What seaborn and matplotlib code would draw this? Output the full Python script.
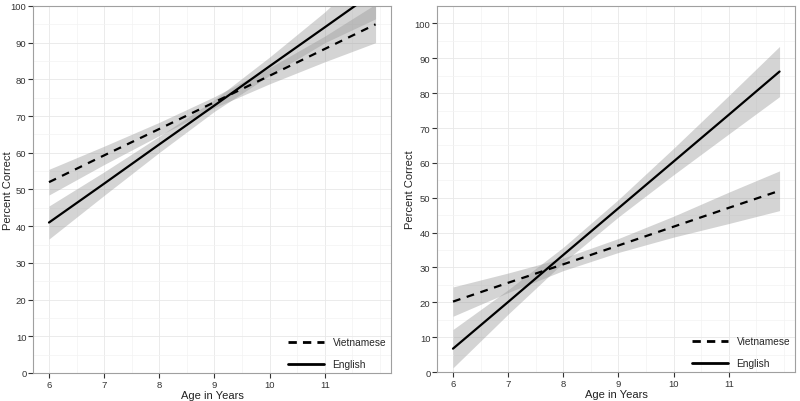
import numpy as np
import pandas as pd
import seaborn as sns
import matplotlib.pyplot as plt
from matplotlib.lines import Line2D
from matplotlib.ticker import MultipleLocator

# values (fitted line and 95% band)
age = [6, 7, 8, 9, 10, 11, 11.92]

# left panel
left_viet_fit = [52.0, 59.3, 66.5, 73.8, 81.0, 88.3, 95.0]
left_viet_lo = [48.5, 56.8, 64.7, 72.3, 78.8, 84.8, 90.0]
left_viet_hi = [55.5, 61.8, 68.3, 75.3, 83.2, 91.8, 100.5]
left_eng_fit = [41.0, 51.6, 62.3, 72.9, 83.6, 94.2, 104.0]
left_eng_lo = [36.5, 48.4, 60.1, 71.3, 81.1, 90.0, 96.5]
left_eng_hi = [45.5, 54.8, 64.5, 74.5, 86.1, 98.4, 111.5]

# right panel
right_viet_fit = [20.2, 25.6, 30.9, 36.3, 41.7, 47.1, 52.0]
right_viet_lo = [16.0, 22.8, 29.1, 34.3, 38.7, 42.6, 46.3]
right_viet_hi = [24.4, 28.4, 32.7, 38.3, 44.7, 51.6, 57.7]
right_eng_fit = [6.7, 20.1, 33.6, 47.0, 60.4, 73.8, 86.2]
right_eng_lo = [1.2, 16.6, 31.4, 44.5, 56.6, 68.3, 79.0]
right_eng_hi = [12.2, 23.6, 35.8, 49.5, 64.2, 79.3, 93.4]

languages = ["Vietnamese", "English"]
xticks = [6, 7, 8, 9, 10, 11]

sns.set_theme(style="white")
plt.rcParams['font.family'] = ['Liberation Sans', 'DejaVu Sans']

fig = plt.figure(figsize=(8, 4.02), dpi=100)
ax1 = fig.add_axes([0.04125, 0.0697, 0.4475, 0.9129])
ax2 = fig.add_axes([0.54625, 0.0721, 0.4475, 0.9105])

panels = [
    (ax1, left_viet_fit, left_viet_lo, left_viet_hi, left_eng_fit, left_eng_lo, left_eng_hi, (0, 100), -0.056),
    (ax2, right_viet_fit, right_viet_lo, right_viet_hi, right_eng_fit, right_eng_lo, right_eng_hi, (0, 105), -0.062),
]

for ax, vf, vl, vh, ef, el, eh, ylim, ylab_x in panels:
    # bands
    ax.fill_between(age, vl, vh, color="#999999", alpha=0.42, linewidth=0, zorder=1)
    ax.fill_between(age, el, eh, color="#999999", alpha=0.42, linewidth=0, zorder=1)

    df = pd.DataFrame({
        "age": age + age,
        "pct": vf + ef,
        "language": [languages[0]] * len(age) + [languages[1]] * len(age),
    })
    sns.lineplot(data=df, x="age", y="pct", style="language",
                 dashes={"Vietnamese": (3.5, 3), "English": ""},
                 color="black", linewidth=1.6, legend=False, ax=ax, zorder=3)

    ax.set_xlim(5.71, 12.2)
    ax.set_ylim(*ylim)
    ax.set_xticks(xticks)
    ax.yaxis.set_major_locator(MultipleLocator(10))
    ax.xaxis.set_minor_locator(MultipleLocator(0.5))
    ax.yaxis.set_minor_locator(MultipleLocator(5))
    ax.grid(which="major", color="#e8e8e8", linewidth=0.6)
    ax.grid(which="minor", color="#f3f3f3", linewidth=0.5)
    ax.set_axisbelow(True)
    for s in ax.spines.values():
        s.set_color("#a0a0a0")
        s.set_linewidth(0.8)
    ax.tick_params(which="major", direction="out", length=3.5, width=0.8,
                   color="#333333", labelsize=6.8, labelcolor="#333333",
                   bottom=True, left=True, pad=1.2)
    ax.tick_params(which="minor", length=0)
    ax.set_xlabel("Age in Years", fontsize=8, color="#222222")
    ax.set_ylabel("Percent Correct", fontsize=8, color="#222222")
    ax.xaxis.set_label_coords(0.5, -0.046)
    ax.yaxis.set_label_coords(ylab_x, 0.5)

    handles = [Line2D([], [], color="black", linewidth=2, linestyle=(0, (3, 2.2))),
               Line2D([], [], color="black", linewidth=2)]
    ax.legend(handles, languages, loc="lower right", frameon=False,
              fontsize=7.3, handlelength=3.6, handletextpad=0.8, labelspacing=1.2,
              bbox_to_anchor=(1.012, -0.015))

fig.savefig("out.png", dpi=100)
